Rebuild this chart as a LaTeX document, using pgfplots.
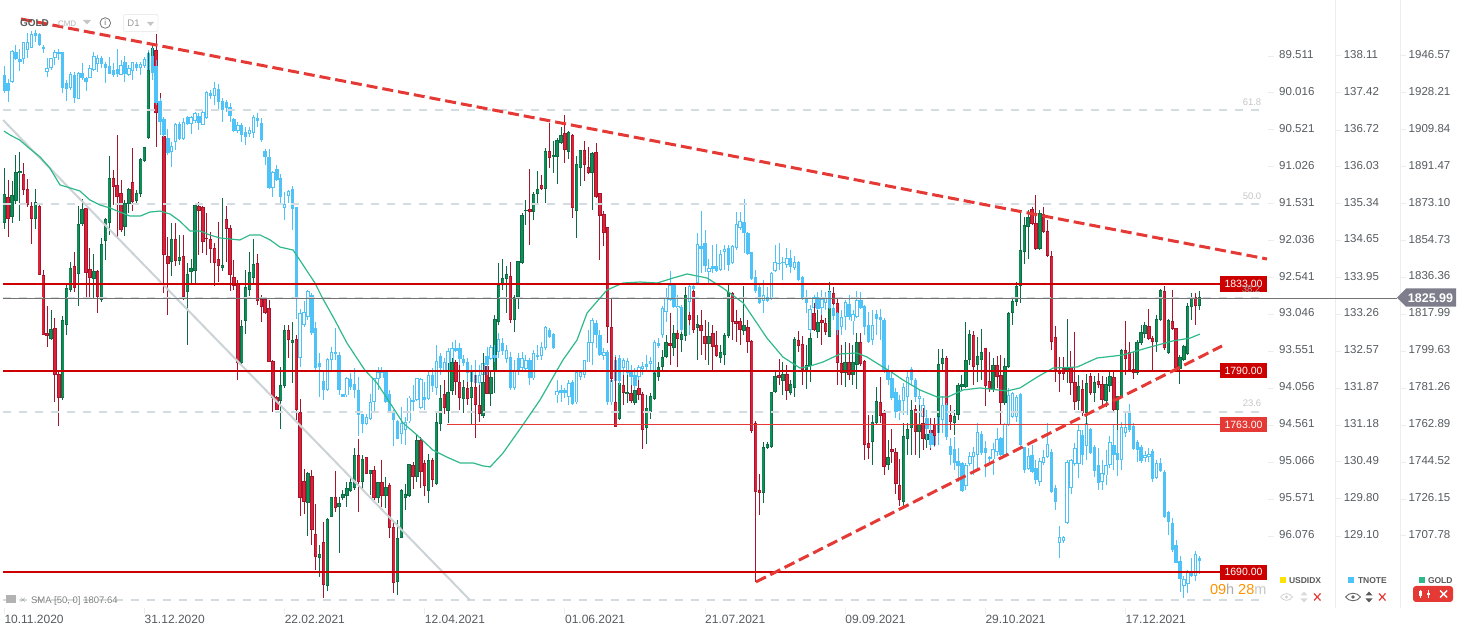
\documentclass[border=0pt]{standalone}
\usepackage{fontspec}
\setmainfont{Liberation Sans}
\usepackage{pgfplots}
\usepackage{pgfplotstable}
\pgfplotsset{compat=1.18}

\definecolor{goldup}{HTML}{0F8F58}
\definecolor{goldupd}{HTML}{0E6B43}
\definecolor{golddn}{HTML}{DE2139}
\definecolor{golddnd}{HTML}{A5152B}
\definecolor{tnote}{HTML}{4FC3F7}
\definecolor{level}{HTML}{CC0000}
\definecolor{trend}{HTML}{E53935}
\definecolor{fib}{HTML}{D3DCE0}
\definecolor{sma}{HTML}{2FB98A}
\definecolor{txt}{HTML}{555B60}
\definecolor{panel}{HTML}{EDEDED}

% GOLD daily candles, one row per bar
\pgfplotstableread{
i o h l c
0 1863.5 1890.8 1860.5 1877.9
1 1876.4 1884.9 1856.5 1865.4
2 1866.4 1884.4 1863.5 1877.4
3 1874.4 1897.3 1872.9 1888.8
4 1888.3 1898.8 1864.4 1889.3
5 1887.8 1893.3 1877.4 1879.9
6 1880.4 1885.4 1871.4 1872.4
7 1871.9 1873.9 1853.0 1865.4
8 1865.4 1880.4 1860.5 1873.9
9 1871.9 1872.9 1837.6 1837.6
10 1837.6 1840.1 1807.7 1807.7
11 1808.7 1822.2 1801.8 1807.2
12 1805.7 1820.2 1805.2 1810.7
13 1811.2 1816.2 1774.4 1787.8
14 1788.3 1790.3 1762.4 1776.4
15 1776.4 1817.2 1775.4 1815.2
16 1812.7 1833.6 1807.7 1831.1
17 1830.1 1844.0 1829.1 1841.0
18 1842.0 1849.0 1829.1 1831.1
19 1838.1 1871.9 1822.2 1862.9
20 1862.9 1875.4 1861.9 1870.4
21 1870.9 1870.9 1826.6 1838.6
22 1840.6 1851.0 1826.6 1836.1
23 1835.6 1848.0 1826.1 1839.6
24 1839.6 1840.1 1818.7 1826.6
25 1825.2 1856.0 1824.2 1853.0
26 1854.5 1865.9 1845.0 1865.4
27 1863.5 1896.8 1857.5 1885.9
28 1885.9 1889.8 1872.4 1881.4
29 1882.4 1907.2 1856.0 1876.4
30 1878.4 1884.9 1859.0 1859.9
31 1861.5 1874.9 1857.0 1873.4
32 1872.9 1880.9 1868.4 1880.4
33 1883.9 1900.8 1869.4 1873.9
34 1874.4 1879.9 1872.4 1878.4
35 1877.9 1895.8 1876.4 1895.3
36 1894.3 1901.3 1893.8 1901.3
37 1905.7 1948.5 1905.2 1939.6
38 1938.6 1952.5 1934.6 1950.5
39 1949.5 1957.5 1901.3 1918.2
40 1923.2 1928.1 1907.2 1913.7
41 1906.7 1907.7 1828.6 1847.5
42 1847.0 1856.5 1817.7 1843.0
43 1844.0 1863.5 1837.1 1855.5
44 1855.5 1863.5 1842.0 1844.5
45 1844.5 1857.5 1842.5 1846.5
46 1847.0 1857.5 1825.2 1826.6
47 1829.1 1843.5 1802.8 1838.1
48 1839.1 1845.5 1833.6 1841.0
49 1839.6 1872.9 1833.6 1872.4
50 1871.9 1873.9 1847.5 1869.4
51 1871.4 1871.9 1848.5 1853.9
52 1856.0 1868.4 1847.5 1855.5
53 1855.5 1859.0 1843.5 1850.5
54 1851.0 1853.5 1832.1 1843.5
55 1845.5 1863.9 1834.1 1842.0
56 1841.0 1875.9 1839.6 1842.5
57 1865.4 1871.9 1844.0 1860.4
58 1860.9 1862.4 1829.6 1837.6
59 1836.6 1845.0 1830.1 1832.1
60 1833.6 1835.1 1785.3 1793.8
61 1793.8 1815.2 1793.3 1812.2
62 1814.7 1840.1 1808.2 1831.6
63 1830.1 1849.0 1827.1 1839.1
64 1836.1 1855.5 1832.6 1843.0
65 1843.5 1848.0 1822.6 1824.7
66 1825.7 1827.6 1814.2 1821.7
67 1825.7 1826.6 1818.2 1818.7
68 1821.2 1825.2 1794.3 1794.3
69 1794.8 1795.3 1769.4 1776.4
70 1776.9 1777.4 1770.4 1770.4
71 1774.9 1791.8 1761.0 1782.9
72 1782.4 1812.7 1781.4 1810.2
73 1810.2 1812.7 1796.3 1805.2
74 1803.8 1814.2 1783.9 1805.2
75 1805.7 1807.7 1765.4 1770.4
76 1769.4 1775.9 1717.7 1726.6
77 1735.1 1741.1 1718.7 1724.6
78 1724.1 1739.6 1707.7 1739.1
79 1737.6 1740.6 1703.2 1710.7
80 1708.7 1723.7 1690.8 1697.3
81 1696.8 1703.2 1687.3 1698.8
82 1704.7 1714.7 1676.9 1683.4
83 1682.9 1716.7 1680.4 1716.2
84 1717.2 1727.1 1717.2 1727.1
85 1727.1 1740.1 1719.7 1721.7
86 1722.2 1727.1 1699.3 1724.1
87 1726.6 1730.6 1725.6 1728.6
88 1727.6 1734.6 1722.2 1731.6
89 1730.1 1737.1 1729.6 1734.6
90 1731.6 1751.6 1730.6 1748.0
91 1748.0 1756.0 1719.7 1734.6
92 1734.6 1748.0 1730.6 1746.0
93 1747.0 1747.0 1738.6 1738.6
94 1738.6 1740.6 1728.1 1740.6
95 1740.6 1742.6 1725.6 1726.6
96 1726.6 1734.6 1724.1 1734.6
97 1734.6 1745.5 1722.2 1727.6
98 1727.6 1737.1 1721.7 1732.1
99 1733.1 1734.1 1706.7 1711.7
100 1712.2 1715.7 1679.4 1684.4
101 1684.9 1715.7 1678.4 1706.7
102 1706.7 1731.1 1706.7 1730.6
103 1726.6 1733.6 1720.7 1728.6
104 1727.6 1743.5 1727.1 1743.5
105 1743.0 1744.5 1731.1 1737.1
106 1737.1 1758.0 1734.6 1755.5
107 1755.5 1756.9 1731.6 1739.6
108 1744.0 1745.5 1727.6 1732.6
109 1730.1 1748.5 1724.1 1745.5
110 1745.5 1746.5 1732.1 1735.6
111 1733.6 1769.4 1733.1 1764.4
112 1763.5 1782.9 1760.0 1776.4
113 1778.4 1785.3 1768.4 1771.4
114 1769.9 1793.8 1763.9 1779.4
115 1779.9 1796.3 1777.9 1794.3
116 1794.3 1795.3 1777.9 1784.4
117 1784.4 1794.3 1770.4 1776.4
118 1775.9 1785.3 1768.9 1781.9
119 1781.4 1790.3 1772.9 1775.9
120 1776.4 1790.3 1763.5 1781.9
121 1781.9 1787.8 1756.5 1772.9
122 1772.9 1782.9 1764.4 1768.4
123 1767.4 1798.8 1766.4 1784.4
124 1792.3 1797.8 1778.4 1778.4
125 1778.4 1789.3 1772.4 1786.8
126 1789.3 1817.7 1778.9 1815.7
127 1814.2 1843.5 1812.7 1832.6
128 1832.6 1845.5 1830.1 1836.1
129 1835.6 1842.0 1818.7 1838.1
130 1837.1 1844.0 1813.7 1815.2
131 1815.2 1827.6 1809.2 1826.6
132 1826.6 1844.5 1820.7 1844.5
133 1843.5 1868.4 1843.0 1867.4
134 1869.4 1874.9 1862.4 1869.9
135 1870.4 1890.3 1852.5 1868.9
136 1868.9 1878.9 1864.9 1877.9
137 1877.9 1889.3 1873.4 1880.4
138 1882.4 1887.3 1879.9 1880.4
139 1880.4 1900.8 1873.4 1899.3
140 1899.3 1913.2 1890.8 1895.8
141 1896.3 1904.2 1888.3 1897.3
142 1896.3 1905.7 1882.9 1904.7
143 1903.2 1911.2 1902.7 1907.2
144 1908.2 1917.2 1893.3 1899.8
145 1898.8 1909.2 1895.3 1908.7
146 1907.2 1907.7 1865.9 1870.9
147 1869.4 1896.8 1856.0 1892.8
148 1890.8 1899.8 1881.9 1899.8
149 1899.8 1904.2 1884.4 1892.3
150 1891.3 1901.3 1887.8 1888.3
151 1888.3 1898.8 1869.9 1898.3
152 1898.8 1903.2 1875.9 1876.4
153 1878.4 1878.4 1845.0 1866.9
154 1867.9 1869.4 1852.0 1858.5
155 1861.5 1861.5 1803.8 1811.7
156 1811.7 1825.7 1784.4 1785.9
157 1774.4 1796.8 1762.0 1762.0
158 1765.9 1785.3 1765.4 1783.9
159 1782.9 1787.8 1772.9 1778.9
160 1778.4 1787.8 1773.9 1779.4
161 1778.9 1784.4 1773.9 1774.9
162 1773.9 1791.3 1772.9 1780.4
163 1781.4 1785.3 1775.4 1777.9
164 1778.4 1779.4 1751.0 1760.5
165 1761.5 1777.9 1753.5 1771.4
166 1769.4 1778.9 1765.9 1777.4
167 1775.9 1789.3 1775.4 1788.8
168 1786.8 1794.3 1784.9 1791.8
169 1791.8 1800.3 1790.3 1796.8
170 1796.8 1807.7 1796.3 1804.3
171 1803.8 1818.7 1792.8 1802.3
172 1801.3 1812.7 1797.3 1808.7
173 1808.7 1810.2 1791.8 1805.7
174 1805.2 1811.2 1799.3 1808.2
175 1807.2 1831.6 1804.7 1827.6
176 1817.7 1819.2 1812.7 1815.2
177 1829.6 1831.6 1808.7 1810.2
178 1811.2 1817.7 1795.3 1813.2
179 1812.7 1820.2 1797.8 1809.7
180 1807.2 1815.2 1795.3 1803.3
181 1803.3 1814.2 1792.8 1807.2
182 1808.7 1812.7 1789.3 1801.8
183 1802.8 1809.7 1796.8 1797.3
184 1796.3 1802.8 1793.8 1799.3
185 1797.8 1808.7 1792.8 1807.7
186 1807.2 1832.6 1806.2 1829.1
187 1828.6 1829.1 1805.2 1814.2
188 1814.7 1820.2 1804.3 1813.2
189 1814.7 1816.2 1802.8 1810.2
190 1809.7 1832.1 1807.7 1812.7
191 1811.7 1815.2 1798.8 1804.3
192 1804.8 1805.3 1759.0 1760.0
193 1763.9 1764.9 1684.9 1729.6
194 1730.6 1738.6 1718.2 1729.1
195 1729.1 1754.5 1724.1 1752.0
196 1751.5 1754.5 1751.0 1753.5
197 1752.0 1779.4 1751.5 1779.4
198 1779.4 1789.3 1778.9 1787.3
199 1787.8 1795.8 1782.9 1786.3
200 1784.9 1794.3 1777.9 1788.3
201 1788.3 1792.8 1775.4 1779.9
202 1778.9 1785.3 1777.9 1783.4
203 1781.4 1806.7 1776.9 1805.7
204 1805.2 1809.7 1799.3 1802.3
205 1803.3 1807.2 1782.9 1790.3
206 1790.3 1802.8 1780.9 1792.8
207 1792.3 1808.7 1784.4 1806.2
208 1818.7 1823.7 1809.7 1810.2
209 1809.2 1829.1 1806.2 1814.2
210 1815.2 1817.7 1802.8 1813.7
211 1813.7 1816.2 1807.7 1809.2
212 1806.7 1834.1 1806.7 1829.6
213 1828.6 1831.6 1815.2 1823.2
214 1823.7 1826.6 1782.9 1793.8
215 1793.8 1802.8 1782.9 1788.8
216 1788.8 1804.3 1781.9 1794.3
217 1794.3 1803.8 1785.3 1787.8
218 1787.8 1802.8 1782.9 1794.3
219 1792.8 1808.7 1780.9 1804.3
220 1804.3 1808.7 1792.3 1793.3
221 1794.8 1795.3 1745.5 1753.0
222 1754.0 1767.9 1746.0 1751.5
223 1754.5 1767.9 1743.1 1764.4
224 1763.9 1781.9 1762.9 1774.9
225 1774.4 1786.8 1763.9 1767.4
226 1768.9 1770.4 1738.1 1742.1
227 1743.1 1755.5 1740.6 1747.0
228 1751.0 1760.9 1744.1 1749.5
229 1749.5 1751.5 1728.6 1733.6
230 1733.1 1746.0 1722.6 1725.6
231 1724.6 1763.9 1722.6 1757.5
232 1756.0 1763.9 1748.0 1760.9
233 1761.5 1775.4 1748.0 1770.4
234 1770.9 1772.9 1748.0 1759.5
235 1759.5 1772.9 1746.5 1763.5
236 1763.9 1771.4 1750.5 1756.0
237 1755.5 1765.4 1751.5 1758.5
238 1760.5 1766.4 1750.5 1754.0
239 1763.5 1766.4 1752.5 1757.5
240 1766.9 1800.8 1759.0 1793.3
241 1793.3 1800.8 1789.3 1796.3
242 1796.3 1797.3 1766.4 1771.9
243 1767.9 1772.9 1760.5 1764.4
244 1763.9 1770.4 1758.0 1767.4
245 1767.9 1783.9 1765.4 1782.9
246 1781.9 1787.8 1780.4 1783.4
247 1781.9 1814.2 1781.4 1795.3
248 1795.3 1810.2 1792.8 1808.2
249 1807.7 1809.7 1782.9 1791.8
250 1792.8 1806.7 1784.4 1797.3
251 1795.3 1810.7 1785.3 1799.3
252 1801.3 1801.3 1772.4 1782.4
253 1784.9 1799.3 1779.4 1780.9
254 1780.4 1796.3 1779.4 1792.8
255 1792.8 1797.3 1781.4 1786.8
256 1787.8 1797.8 1763.0 1773.9
257 1773.9 1796.3 1772.9 1792.3
258 1791.8 1819.2 1791.3 1818.7
259 1818.7 1826.1 1812.7 1824.7
260 1824.1 1834.1 1822.2 1832.1
261 1832.1 1868.9 1823.7 1850.0
262 1849.0 1866.4 1843.1 1862.5
263 1861.5 1869.9 1845.5 1866.4
264 1870.4 1871.4 1862.5 1863.0
265 1863.5 1877.4 1850.0 1850.5
266 1850.5 1869.9 1850.0 1868.4
267 1867.9 1871.4 1858.5 1859.0
268 1859.5 1865.0 1846.5 1847.0
269 1847.0 1849.5 1800.3 1804.3
270 1806.7 1812.2 1784.4 1789.3
271 1789.8 1796.8 1779.4 1788.3
272 1791.3 1796.8 1785.3 1788.3
273 1789.3 1815.7 1783.9 1791.3
274 1791.8 1799.8 1777.9 1783.9
275 1784.4 1809.2 1770.4 1774.4
276 1774.9 1787.8 1770.4 1782.4
277 1780.9 1785.3 1767.4 1768.9
278 1768.9 1788.3 1763.0 1783.9
279 1787.3 1788.8 1777.9 1778.9
280 1778.9 1787.3 1774.4 1784.4
281 1784.9 1788.8 1781.4 1782.9
282 1783.4 1787.3 1771.9 1775.4
283 1774.9 1786.8 1771.9 1783.4
284 1782.4 1790.3 1779.4 1787.3
285 1786.8 1789.3 1768.9 1770.4
286 1770.4 1777.4 1753.0 1777.4
287 1776.9 1800.8 1776.4 1800.3
288 1800.3 1814.7 1787.8 1795.8
289 1799.3 1804.3 1789.3 1790.3
290 1790.8 1799.3 1785.9 1788.8
291 1788.8 1805.3 1787.8 1804.3
292 1803.8 1812.7 1802.8 1809.2
293 1808.2 1814.2 1806.2 1812.7
294 1812.2 1820.7 1805.3 1805.7
295 1806.2 1807.2 1790.3 1804.3
296 1804.3 1817.7 1799.3 1815.7
297 1815.2 1830.6 1814.7 1830.1
298 1829.6 1832.1 1800.3 1801.3
299 1798.8 1815.7 1798.3 1815.2
300 1814.7 1830.1 1810.2 1810.7
301 1811.2 1811.2 1790.3 1791.3
302 1790.8 1797.8 1783.4 1796.8
303 1795.3 1802.8 1794.8 1802.3
304 1798.3 1823.7 1797.8 1822.2
305 1821.7 1828.6 1815.2 1826.6
306 1826.6 1828.6 1812.7 1822.2
307 1822.2 1829.6 1820.2 1826.6
}\goldbars

% TNOTE daily candles, one row per bar
\pgfplotstableread{
i o h l c
0 137.75 137.92 137.41 137.45
1 137.60 137.68 137.25 137.45
2 137.62 138.22 137.60 138.20
3 138.18 138.32 138.03 138.05
4 138.05 138.24 137.83 137.99
5 138.05 138.37 137.96 138.37
6 138.22 138.54 138.07 138.37
7 138.26 138.58 138.26 138.52
8 138.54 138.60 138.37 138.48
9 138.52 138.54 138.30 138.32
10 138.28 138.32 138.17 138.24
11 137.81 138.07 137.71 137.88
12 137.88 138.07 137.85 138.07
13 138.07 138.22 137.94 138.18
14 138.15 138.24 138.03 138.18
15 138.18 138.18 137.41 137.51
16 137.60 137.66 137.26 137.49
17 137.51 137.81 137.47 137.77
18 137.75 137.81 137.23 137.32
19 137.30 137.81 137.30 137.79
20 137.79 137.98 137.66 137.70
21 137.70 137.71 137.45 137.62
22 137.70 137.94 137.70 137.88
23 137.85 138.18 137.83 138.11
24 137.96 138.13 137.81 138.07
25 138.07 138.11 137.88 137.96
26 137.96 137.99 137.60 137.88
27 137.92 138.09 137.77 137.77
28 137.85 137.98 137.71 137.75
29 137.86 138.24 137.71 137.77
30 137.75 138.03 137.75 137.94
31 137.99 138.11 137.62 137.77
32 137.75 137.94 137.73 137.88
33 137.83 137.99 137.66 137.99
34 137.96 138.00 137.83 137.88
35 137.88 138.00 137.75 137.96
36 137.92 138.09 137.88 138.05
37 137.79 138.22 137.73 138.17
38 138.11 138.26 137.66 137.79
39 137.92 138.03 137.19 137.23
40 137.26 137.32 136.63 136.87
41 136.92 136.96 136.59 136.63
42 136.57 136.74 136.25 136.29
43 136.31 136.49 136.03 136.42
44 136.49 136.85 136.35 136.83
45 136.83 136.87 136.53 136.55
46 136.55 136.94 136.53 136.87
47 136.96 136.98 136.81 136.83
48 136.83 136.98 136.64 136.96
49 136.89 137.06 136.85 137.04
50 136.98 137.04 136.72 136.85
51 136.81 137.07 136.81 137.06
52 136.95 137.45 136.93 137.43
53 137.41 137.47 137.30 137.35
54 137.36 137.62 137.19 137.51
55 137.49 137.58 137.09 137.24
56 137.26 137.32 136.87 137.09
57 137.24 137.28 137.06 137.13
58 137.15 137.23 136.87 136.98
59 136.92 136.94 136.68 136.70
60 136.70 136.87 136.66 136.81
61 136.81 136.85 136.49 136.62
62 136.68 136.77 136.44 136.59
63 136.65 136.77 136.59 136.72
64 136.66 137.00 136.57 136.96
65 136.94 137.04 136.78 136.89
66 136.85 136.94 136.50 136.53
67 136.33 136.36 136.06 136.21
68 136.21 136.36 135.61 135.63
69 135.63 135.95 135.46 135.93
70 135.99 136.06 135.76 135.78
71 135.82 135.89 135.31 135.46
72 135.26 135.56 135.03 135.33
73 135.48 135.59 135.35 135.57
74 135.61 135.67 134.84 135.24
75 135.27 135.27 133.17 133.59
76 132.44 133.36 132.27 133.28
77 133.06 133.51 133.02 133.30
78 133.21 133.71 133.16 133.70
79 133.62 133.66 132.87 132.91
80 133.00 133.12 132.21 132.25
81 132.34 132.53 131.71 132.27
82 132.01 132.18 131.65 131.85
83 131.84 132.44 131.82 132.42
84 132.40 132.65 132.21 132.55
85 132.52 133.00 132.40 132.55
86 132.50 132.55 131.74 131.84
87 131.76 131.76 131.71 131.71
88 131.74 132.08 131.71 132.06
89 132.04 132.16 131.84 131.89
90 131.96 132.25 131.69 131.85
91 131.85 132.08 130.97 131.37
92 131.39 131.39 131.03 131.20
93 131.20 131.39 131.18 131.33
94 131.30 131.77 131.27 131.62
95 131.62 132.06 131.43 132.06
96 132.05 132.27 131.84 132.18
97 132.06 132.27 132.06 132.18
98 132.18 132.12 131.59 131.61
99 131.76 131.84 131.41 131.41
100 131.41 131.46 130.79 131.28
101 131.26 131.28 130.92 130.92
102 131.01 131.52 130.82 131.22
103 131.09 131.33 130.81 131.24
104 131.25 131.73 131.22 131.70
105 131.65 131.93 131.45 131.61
106 131.65 132.06 131.63 132.06
107 131.50 132.07 131.48 132.05
108 131.71 131.99 131.46 131.65
109 131.68 132.21 131.65 132.12
110 132.12 132.25 131.80 131.92
111 131.88 132.68 131.74 132.38
112 132.48 132.53 132.12 132.25
113 132.21 132.44 132.18 132.36
114 132.20 132.63 132.15 132.57
115 132.36 132.74 132.31 132.63
116 132.63 132.78 132.56 132.57
117 132.63 132.72 132.31 132.42
118 132.42 132.50 132.29 132.34
119 132.36 132.44 131.99 132.16
120 131.99 132.31 131.93 132.18
121 131.97 132.40 131.80 132.12
122 131.97 132.31 131.93 132.12
123 132.12 132.49 132.03 132.34
124 132.48 132.65 132.12 132.31
125 132.42 132.68 132.40 132.65
126 132.50 132.68 132.36 132.44
127 132.55 132.91 132.44 132.80
128 132.72 132.82 132.50 132.57
129 132.42 132.68 132.35 132.59
130 132.46 132.55 131.84 131.88
131 131.88 132.40 131.84 132.21
132 132.44 132.53 132.12 132.21
133 132.25 132.55 132.21 132.44
134 132.23 132.50 132.18 132.40
135 132.40 132.44 131.93 132.06
136 132.06 132.59 132.03 132.53
137 132.50 132.68 132.40 132.46
138 132.48 132.74 132.40 132.65
139 132.63 133.04 132.59 133.02
140 132.97 133.00 132.82 132.83
141 132.89 132.91 132.61 132.63
142 131.74 132.03 131.60 131.82
143 131.84 131.93 131.61 131.78
144 131.84 131.88 131.69 131.78
145 131.71 132.03 131.56 131.97
146 131.99 132.03 131.56 131.58
147 131.61 132.20 131.58 132.18
148 132.08 132.21 132.03 132.18
149 132.12 132.40 132.06 132.40
150 132.36 132.97 132.36 132.74
151 132.72 133.19 132.31 133.15
152 133.10 133.15 132.63 132.87
153 132.87 132.97 132.48 132.50
154 132.48 132.63 132.40 132.55
155 132.55 132.59 131.56 131.61
156 131.61 132.21 131.56 132.03
157 132.01 132.50 131.93 132.40
158 132.44 132.50 131.93 132.01
159 132.25 132.44 132.03 132.40
160 132.16 132.44 132.10 132.38
161 132.18 132.31 131.93 132.08
162 132.12 132.25 131.84 131.91
163 132.08 132.31 131.84 132.27
164 132.23 132.36 132.12 132.29
165 132.33 132.50 132.21 132.27
166 132.33 132.46 132.18 132.38
167 132.16 132.78 132.12 132.74
168 132.72 132.82 132.63 132.67
169 132.87 133.42 132.82 133.38
170 133.30 133.75 133.12 133.59
171 133.53 134.07 133.51 133.81
172 133.81 133.85 133.38 133.40
173 133.38 133.62 132.97 133.42
174 133.40 133.43 132.93 132.97
175 133.02 133.62 132.78 133.53
176 133.49 133.81 132.87 133.79
177 133.79 133.85 133.72 133.74
178 133.85 134.79 133.83 134.58
179 134.54 135.20 134.04 134.49
180 134.60 134.84 134.05 134.17
181 134.05 134.30 133.85 134.13
182 134.17 134.56 134.04 134.11
183 134.17 134.58 134.05 134.07
184 134.09 134.47 134.07 134.39
185 134.43 134.56 134.09 134.49
186 134.51 134.56 134.07 134.19
187 134.22 134.56 134.20 134.54
188 134.51 135.18 134.47 134.96
189 134.88 135.18 134.84 135.01
190 134.99 135.42 134.41 134.79
191 134.79 134.81 134.37 134.39
192 134.43 134.43 133.90 133.92
193 133.96 134.09 133.66 133.70
194 133.77 133.81 133.45 133.47
195 133.51 133.90 133.28 133.62
196 133.59 133.77 133.49 133.51
197 133.55 134.05 133.53 134.04
198 134.07 134.56 134.05 134.24
199 134.22 134.60 134.09 134.20
200 134.22 134.34 133.90 134.24
201 134.19 134.51 134.13 134.32
202 134.32 134.47 134.04 134.15
203 134.13 134.36 134.09 134.24
204 134.24 134.26 133.88 133.90
205 133.96 133.98 133.53 133.57
206 133.59 133.72 133.28 133.47
207 132.97 133.43 132.87 133.36
208 133.38 133.62 132.97 133.59
209 133.59 133.68 133.34 133.36
210 133.38 133.72 133.25 133.55
211 133.47 133.68 133.34 133.59
212 133.68 133.72 133.36 133.38
213 133.38 133.43 133.15 133.23
214 133.28 133.30 132.87 132.97
215 133.02 133.34 132.87 133.21
216 133.21 133.53 132.97 133.49
217 133.45 133.62 133.15 133.21
218 133.13 133.34 132.87 133.27
219 133.21 133.70 133.19 133.53
220 133.53 133.68 133.36 133.38
221 133.42 133.43 132.87 133.02
222 133.06 133.30 132.72 132.74
223 132.78 133.34 132.68 133.06
224 133.27 133.34 132.87 133.17
225 133.21 133.36 132.78 133.15
226 133.15 133.19 132.16 132.18
227 132.18 132.31 131.93 132.03
228 132.06 132.20 131.65 131.69
229 131.80 131.88 131.31 131.43
230 131.65 131.75 131.28 131.45
231 131.63 131.97 131.37 131.90
232 131.71 132.21 131.37 132.08
233 132.23 132.27 131.93 132.03
234 132.03 132.06 131.61 131.71
235 131.67 131.84 131.28 131.73
236 131.33 131.69 131.18 131.56
237 131.31 131.46 130.90 131.11
238 131.03 131.18 130.75 130.81
239 130.81 131.18 130.77 131.15
240 131.03 131.43 130.81 131.35
241 131.28 131.73 131.03 131.56
242 131.56 131.60 130.90 130.96
243 130.79 130.94 130.43 130.62
244 130.73 130.96 130.34 130.47
245 130.51 130.75 130.11 130.41
246 130.47 130.49 129.93 129.94
247 130.04 130.47 129.96 130.43
248 130.45 130.68 130.41 130.60
249 130.58 130.77 130.24 130.68
250 130.62 131.22 130.34 131.05
251 131.01 131.07 130.62 130.66
252 130.75 130.88 130.21 130.66
253 130.58 130.60 130.49 130.54
254 130.54 130.85 130.24 130.73
255 130.68 131.13 130.60 130.92
256 130.94 130.96 130.60 130.62
257 130.62 131.22 130.60 131.20
258 131.18 131.88 131.16 131.75
259 131.33 131.80 131.31 131.78
260 131.33 131.75 131.24 131.71
261 131.76 131.78 130.79 130.81
262 130.77 130.77 130.28 130.34
263 130.36 130.75 130.34 130.60
264 130.62 130.81 130.28 130.30
265 130.38 130.53 130.08 130.15
266 130.11 130.56 130.04 130.51
267 130.47 130.71 130.43 130.58
268 130.58 131.22 130.56 130.83
269 130.68 130.73 129.91 129.93
270 130.00 130.06 129.59 129.74
271 128.97 129.29 128.69 129.08
272 129.01 129.10 128.97 129.08
273 129.34 130.53 129.32 130.49
274 130.00 130.54 129.89 130.53
275 130.45 130.85 130.41 130.75
276 130.45 131.18 130.19 131.09
277 130.99 131.09 130.43 130.62
278 130.79 131.28 130.53 131.22
279 131.11 131.13 130.64 130.66
280 130.77 130.81 130.21 130.32
281 130.43 130.75 129.96 130.09
282 130.11 130.53 129.96 130.28
283 130.24 130.71 130.06 130.43
284 130.43 130.98 130.38 130.86
285 130.81 131.18 130.34 130.62
286 130.66 131.09 130.23 130.53
287 130.53 131.24 130.34 131.14
288 131.03 131.41 130.96 131.14
289 131.41 131.58 131.05 131.09
290 131.16 131.22 130.71 130.73
291 130.86 130.90 130.49 130.71
292 130.77 130.81 130.47 130.51
293 130.56 130.69 130.49 130.62
294 130.58 130.75 130.49 130.64
295 130.69 130.73 130.11 130.17
296 130.19 130.53 130.17 130.47
297 130.47 130.56 130.30 130.32
298 130.30 130.34 129.44 129.46
299 129.55 129.57 129.12 129.36
300 129.34 129.44 128.80 128.84
301 128.93 129.02 128.59 128.59
302 128.63 128.72 128.05 128.29
303 128.16 128.35 127.94 128.29
304 128.20 128.46 128.03 128.44
305 128.40 128.69 128.33 128.35
306 128.35 128.82 128.25 128.76
307 128.68 128.72 128.39 128.63
}\tnotebars

\newcommand{\wicks}[3]{% colour, table, test
  \addplot[draw=none,mark=none,forget plot,
    error bars/.cd,y dir=minus,y explicit,error mark=none,
    error bar style={draw=#1,line width=1pt}]
    table[x expr={#3?\thisrow{i}:nan},y=h,
      y error minus expr={\thisrow{h}-\thisrow{l}}] {#2};}
\newcommand{\bodies}[5]{% colour, width, table, test, inset
  \addplot[draw=none,mark=none,forget plot,
    error bars/.cd,y dir=minus,y explicit,error mark=none,
    error bar style={draw=#1,line width=#2}]
    table[x expr={#4?\thisrow{i}:nan},y expr={max(\thisrow{o},\thisrow{c})-#5},
      y error minus expr={max(abs(\thisrow{o}-\thisrow{c})-2*#5,0)}] {#3};}
\def\up{\thisrow{c}>\thisrow{o}}
\def\dn{\thisrow{c}<\thisrow{o}}

\pgfplotsset{
  base/.style={scale only axis,height=608pt,at={(0,26pt)},anchor=south west,
    xmin=-1.105,clip=false},
  rightticks/.style={axis y line*=right,axis line style={draw=panel,-},
    tick align=outside,major tick length=6pt,tick style={draw=panel,line width=1pt},
    ytick pos=right,yticklabel pos=right,
    yticklabel style={font=\fontsize{11.5}{12}\selectfont,text=txt,inner sep=0pt,
      anchor=west,xshift=2.5pt,yshift=1.5pt}},
  tnotescale/.style={base,width=1335pt,xmax=341.82,ymin=127.75,ymax=139.16},
  goldscale/.style={base,width=1400pt,xmax=358.52,ymin=1671.93,ymax=1974.4},
}

\begin{document}
\begin{tikzpicture}
\path[use as bounding box] (0,0) rectangle (1469pt,634pt);

% USDIDX scale (series hidden)
\begin{axis}[base,axis x line=none,width=1268pt,xmax=324.6,ymin=88.745,ymax=97.06,y dir=reverse,rightticks,
  y axis line style={draw=none},
  yticklabel style={xshift=2.5pt},
  ytick={89.511,90.016,90.521,91.026,91.531,92.036,92.541,93.046,93.551,94.056,94.561,95.066,95.571,96.076},
  yticklabels={89.511,90.016,90.521,91.026,91.531,92.036,92.541,93.046,93.551,94.056,94.561,95.066,95.571,96.076}]
\end{axis}

% TNOTE scale, rising bars
\begin{axis}[tnotescale,axis x line=none,rightticks,
  ytick={129.10,129.80,130.49,131.18,131.87,132.57,133.26,133.95,134.65,135.34,136.03,136.72,137.42,138.11},
  yticklabels={129.10,129.80,130.49,131.18,131.87,132.57,133.26,133.95,134.65,135.34,136.03,136.72,137.42,138.11}]
  \wicks{tnote}{\tnotebars}{\up}
  \bodies{tnote}{3.4pt}{\tnotebars}{\up}{0}
  \bodies{white}{1.4pt}{\tnotebars}{\up}{0.015}
\end{axis}

% GOLD scale and candles
\begin{axis}[goldscale,rightticks,axis x line*=bottom,
  x axis line style={draw=none},
  xtick={0,36,72,108,144,180,216,252,288},
  xticklabels={10.11.2020,31.12.2020,22.02.2021,12.04.2021,01.06.2021,21.07.2021,09.09.2021,29.10.2021,17.12.2021},
  xtick pos=bottom,
  xticklabel style={font=\fontsize{12}{12}\selectfont,text=txt,anchor=north west,inner sep=0pt,yshift=-1pt},
  ytick={1707.78,1726.15,1744.52,1762.89,1781.26,1799.63,1817.99,1836.36,1854.73,1873.10,1891.47,1909.84,1928.21,1946.57},
  yticklabels={1707.78,1726.15,1744.52,1762.89,1781.26,1799.63,1817.99,1836.36,1854.73,1873.10,1891.47,1909.84,1928.21,1946.57}]
  \wicks{goldupd}{\goldbars}{\up}
  \wicks{golddnd}{\goldbars}{\dn}
  \bodies{goldupd}{3.4pt}{\goldbars}{\up}{0}
  \bodies{goldup}{2pt}{\goldbars}{\up}{0.4}
  \bodies{golddnd}{3.4pt}{\goldbars}{\dn}{0}
  \bodies{golddn}{2pt}{\goldbars}{\dn}{0.4}
\end{axis}

% TNOTE falling bars lie over the gold candles
\begin{axis}[tnotescale,hide axis]
  \wicks{tnote}{\tnotebars}{\dn}
  \bodies{tnote}{3.4pt}{\tnotebars}{\dn}{0}
\end{axis}

% studies and drawing tools, on the gold scale
\begin{axis}[goldscale,hide axis]
  % Fibonacci levels
  \addplot[fib,line width=1.6pt,dash pattern=on 8pt off 8pt,forget plot] coordinates {(-0.3,1919.7) (323.5,1919.7)};
  \addplot[fib,line width=1.6pt,dash pattern=on 8pt off 8pt,forget plot] coordinates {(-0.3,1872.9) (323.5,1872.9)};
  \addplot[fib,line width=1.6pt,dash pattern=on 8pt off 8pt,forget plot] coordinates {(-0.3,1826.1) (323.5,1826.1)};
  \addplot[fib,line width=1.6pt,dash pattern=on 8pt off 8pt,forget plot] coordinates {(-0.3,1769.4) (323.5,1769.4)};
  \addplot[fib,line width=1.6pt,dash pattern=on 8pt off 8pt,forget plot] coordinates {(-0.3,1675.9) (323.5,1675.9)};
  % falling grey trend line
  \addplot[fib!90!gray,line width=2pt,forget plot] coordinates {(-0.33,1914.7) (119.6,1675.9)};
  % SMA 50
  \addplot[sma,line width=1.2pt,forget plot] coordinates {
    (-0.1,1909.2) (1.5,1907.2) (4.0,1904.7) (6.6,1900.3) (9.2,1896.3) (11.7,1890.8)
    (14.3,1882.4) (16.9,1880.9) (19.4,1879.4) (22.0,1874.9) (24.6,1872.4) (27.2,1870.9)
    (29.7,1868.9) (32.3,1866.9) (34.9,1866.9) (37.4,1868.9) (40.0,1869.4) (42.6,1867.9)
    (45.1,1864.4) (47.7,1859.5) (50.3,1859.5) (52.8,1857.5) (55.4,1856.0) (60.5,1855.0)
    (63.1,1857.5) (65.7,1857.5) (68.3,1855.0) (70.8,1851.5) (74.2,1850.0) (79.8,1833.6)
    (81.6,1826.6) (84.9,1815.2) (88.0,1803.8) (92.6,1790.3) (95.7,1783.9) (99.1,1773.9)
    (102.4,1764.0) (106.0,1758.0) (110.1,1750.5) (113.7,1747.0) (117.1,1744.1) (120.4,1744.1)
    (123.0,1742.6) (124.8,1742.1) (128.1,1749.0) (133.2,1763.0) (137.6,1775.4) (142.0,1790.3)
    (143.5,1795.3) (147.1,1805.2) (149.7,1818.7) (154.8,1830.1) (158.9,1833.6) (163.3,1834.1)
    (167.7,1833.6) (171.8,1836.1) (175.4,1838.1) (180.5,1836.1) (184.6,1831.1) (189.8,1823.7)
    (193.3,1813.7) (195.9,1806.2) (200.0,1796.8) (204.4,1791.3) (207.0,1792.3) (210.3,1794.3)
    (214.7,1798.3) (219.0,1798.8) (221.6,1796.8) (225.7,1791.8) (227.5,1789.8) (230.9,1785.3)
    (235.2,1780.4) (239.6,1776.9) (242.4,1776.9) (246.3,1780.4) (250.6,1781.4) (257.6,1779.9)
    (260.9,1781.4) (265.3,1786.8) (269.4,1791.3) (275.6,1791.8) (280.7,1796.3) (287.4,1797.8)
    (293.5,1801.3) (300.2,1804.8) (304.6,1806.2) (307.1,1808.2)};
  % current price
  \addplot[gray!90!black,line width=0.8pt,forget plot] coordinates {(-0.3,1825.99) (357.8,1825.99)};
  % horizontal levels
  \addplot[level,line width=2pt,forget plot] coordinates {(-0.33,1833) (312.3,1833)};
  \addplot[level,line width=2pt,forget plot] coordinates {(-0.33,1790) (312.3,1790)};
  \addplot[trend,line width=0.9pt,forget plot] coordinates {(113.7,1763) (312.3,1763)};
  \addplot[level,line width=2pt,forget plot] coordinates {(-0.33,1690) (312.3,1690)};
  % dashed trend lines
  \addplot[trend,line width=3pt,dash pattern=on 11pt off 5pt,forget plot] coordinates {(4.29,1964.95) (324.35,1845.55)};
  \addplot[trend,line width=3pt,dash pattern=on 11pt off 5pt,forget plot] coordinates {(193.1,1684.9) (312.8,1802.3)};
\end{axis}

% platform furniture, placed in image pixels
\begin{scope}[shift={(0,634pt)},x=1pt,y=-1pt,every node/.style={inner sep=0pt,outer sep=0pt}]
  % level tags
  \fill[level] (1220,276.5) rectangle (1267,292);
  \node[text=white,font=\fontsize{10.5}{11}\selectfont] at (1243.5,284.3) {1833.00};
  \fill[level] (1220,363) rectangle (1267,378.5);
  \node[text=white,font=\fontsize{10.5}{11}\selectfont] at (1243.5,370.8) {1790.00};
  \fill[trend] (1220,417) rectangle (1267,432.5);
  \node[text=white,font=\fontsize{10.5}{11}\selectfont] at (1243.5,424.8) {1763.00};
  \fill[level] (1220,565) rectangle (1267,580);
  \node[text=white,font=\fontsize{10.5}{11}\selectfont] at (1243.5,572.3) {1690.00};
  % fib labels
  \node[text=gray!45,font=\fontsize{9.5}{10}\selectfont] at (1252,102) {61.8};
  \node[text=gray!45,font=\fontsize{9.5}{10}\selectfont] at (1252,196) {50.0};
  \node[text=gray!70,font=\fontsize{9.5}{10}\selectfont] at (1251,289.5) {38.2};
  \node[text=gray!45,font=\fontsize{9.5}{10}\selectfont] at (1252,403) {23.6};
  % last price tag
  \fill[gray!60!blue!25!black!55] (1397,297.6) -- (1406,288.5) -- (1456,288.5) -- (1456,306.7) -- (1406,306.7) -- cycle;
  \node[text=white,font=\bfseries\fontsize{12.5}{13}\selectfont] at (1430.5,297.8) {1825.99};
  % top left instrument bar
  \node[anchor=west,text=black!65,font=\bfseries\fontsize{10}{11}\selectfont] at (20,23) {GOLD};
  \node[anchor=west,text=gray!60,font=\fontsize{8}{9}\selectfont] at (58,24) {CMD};
  \fill[gray!45] (83,20) -- (91,20) -- (87,24.5) -- cycle;
  \draw[black!55,line width=0.8pt] (105.3,23) circle (5.3);
  \node[text=black!60,font=\fontsize{8}{9}\selectfont] at (105.3,23) {i};
  \draw[panel,line width=0.9pt,rounded corners=2pt] (123.5,14.5) rectangle (158,31.5);
  \node[text=gray!80,font=\fontsize{9.5}{10}\selectfont] at (133.5,23.5) {D1};
  \fill[gray!45] (147,22) -- (154,22) -- (150.5,26) -- cycle;
  % SMA caption
  \fill[gray!60] (6,595) rectangle (16,603);
  \node[text=gray,font=\fontsize{9}{10}\selectfont] at (23,600) {$\times$};
  \node[anchor=west,text=gray,font=\fontsize{9.5}{10}\selectfont] at (31,601) {SMA [50, 0] 1807.64};
  % countdown
  \node[anchor=west,font=\fontsize{14.5}{15}\selectfont] at (1210,589.5) {\textcolor{orange!85!yellow}{09}\textcolor{gray!65}{h }\textcolor{orange!85!yellow}{28}\textcolor{gray!45}{m}};
  % series switches
  \fill[yellow!85!orange] (1280,577) rectangle (1285.5,583);
  \node[anchor=west,text=black!65,font=\bfseries\fontsize{8.5}{9}\selectfont] at (1289,580.5) {USDIDX};
  \fill[tnote] (1348,577) rectangle (1353.5,583);
  \node[anchor=west,text=black!65,font=\bfseries\fontsize{8.5}{9}\selectfont] at (1358,580.5) {TNOTE};
  \fill[sma] (1419,577) rectangle (1424.5,583);
  \node[anchor=west,text=black!65,font=\bfseries\fontsize{8.5}{9}\selectfont] at (1428,580.5) {GOLD};
  \draw[gray!35,line width=0.8pt] (1280.5,597) .. controls (1284,592.5) and (1289,592.5) .. (1292.5,597) .. controls (1289,601.5) and (1284,601.5) .. (1280.5,597);
  \fill[gray!35] (1286.5,597) circle (1.6);
  \fill[gray!30] (1300.5,595.5) -- (1304,591.5) -- (1307.5,595.5) -- cycle (1300.5,598.5) -- (1304,602.5) -- (1307.5,598.5) -- cycle;
  \draw[trend,line width=1.2pt] (1314,593.5) -- (1320.5,600.5) (1320.5,593.5) -- (1314,600.5);
  \draw[black!60,line width=0.9pt] (1345.5,597) .. controls (1349,592) and (1357,592) .. (1360.5,597) .. controls (1357,602) and (1349,602) .. (1345.5,597);
  \fill[black!60] (1353,597) circle (1.9);
  \fill[black!65] (1365.5,595.5) -- (1369,591.5) -- (1372.5,595.5) -- cycle (1365.5,598.5) -- (1369,602.5) -- (1372.5,598.5) -- cycle;
  \draw[trend,line width=1.2pt] (1379,593.5) -- (1385.5,600.5) (1385.5,593.5) -- (1379,600.5);
  \fill[trend,rounded corners=3pt] (1413,586) rectangle (1453,602);
  \draw[white,line width=0.8pt] (1420.5,590) -- (1420.5,598.5) (1428,590.5) -- (1428,598);
  \fill[white] (1419,591.5) rectangle (1422,596.5);
  \fill[white] (1426.5,593) rectangle (1429.5,595.5);
  \draw[white,line width=1.4pt] (1440,590.5) -- (1447,597.5) (1447,590.5) -- (1440,597.5);
\end{scope}
\end{tikzpicture}
\end{document}
